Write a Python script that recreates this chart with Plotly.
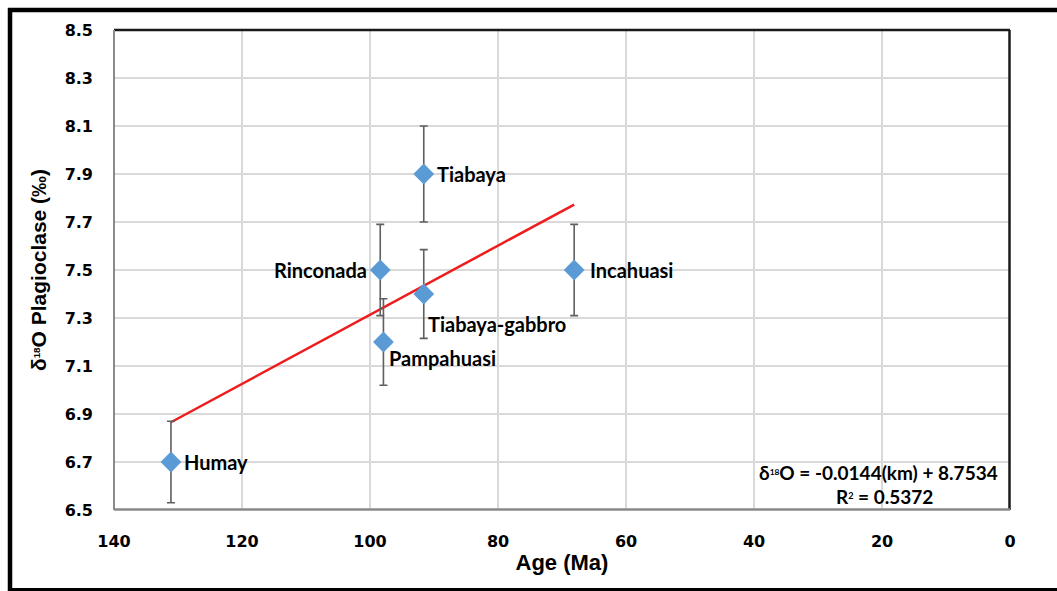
import plotly.graph_objects as go

# Sample data
names = ["Humay", "Rinconada", "Tiabaya", "Tiabaya-gabbro", "Pampahuasi", "Incahuasi"]
age_ma = [131.1, 98.4, 91.6, 91.6, 97.9, 68.1]
d18o = [6.7, 7.5, 7.9, 7.4, 7.2, 7.5]
d18o_err = [0.17, 0.19, 0.2, 0.185, 0.18, 0.19]

# Linear trend reported on the chart
fit_slope = -0.0144
fit_intercept = 8.7534
fit_r2 = 0.5372

x_ticks = [140, 120, 100, 80, 60, 40, 20, 0]
y_ticks = [6.5, 6.7, 6.9, 7.1, 7.3, 7.5, 7.7, 7.9, 8.1, 8.3, 8.5]

# label placement: (xanchor, xshift, yshift)
label_pos = {
    "Humay": ("left", 11, 0),
    "Rinconada": ("right", -11, 0),
    "Tiabaya": ("left", 11, 0),
    "Tiabaya-gabbro": ("left", 2, -30),
    "Pampahuasi": ("left", 4, -16),
    "Incahuasi": ("left", 14, 0),
}

W, H = 1057, 591
ML, MT = 114, 30
MR, MB = W - 1010, H - 510
PW, PH = W - ML - MR, H - MT - MB

fig = go.Figure()

x_fit = [max(age_ma), min(age_ma)]
y_fit = [fit_slope * a + fit_intercept for a in x_fit]
fig.add_trace(go.Scatter(x=x_fit, y=y_fit, mode="lines",
                         line=dict(color="#EE1C1C", width=2.5), hoverinfo="skip"))

fig.add_trace(go.Scatter(
    x=age_ma, y=d18o, mode="markers", text=names,
    marker=dict(symbol="diamond", size=16, color="#5B9BD5"),
    error_y=dict(type="data", array=d18o_err, visible=True,
                 color="#5f5f5f", thickness=1.6, width=4),
))

lab_font = dict(family="Lato, Open Sans, sans-serif", size=20, color="black")
for n, a, v in zip(names, age_ma, d18o):
    anc, xs, ys = label_pos[n]
    fig.add_annotation(x=a, y=v, text=f"<b>{n}</b>", showarrow=False,
                       xanchor=anc, yanchor="middle", xshift=xs, yshift=ys, font=lab_font)

eq_font = dict(family="Lato, Open Sans, sans-serif", size=19, color="black")
fig.add_annotation(x=0.853, y=0.078, xref="paper", yref="paper", showarrow=False,
                   text=f"<b>δ<span style='font-size:12px'><sup>18</sup></span>O = {fit_slope}(km) + {fit_intercept}</b>",
                   font=eq_font, xanchor="center", yanchor="middle")
fig.add_annotation(x=0.86, y=0.028, xref="paper", yref="paper", showarrow=False,
                   text=f"<b>R<span style='font-size:13px'><sup>2</sup></span> = {fit_r2}</b>",
                   font=eq_font, xanchor="center", yanchor="middle")


def px_x(p):
    return (p - ML) / PW


def px_y(p):
    return 1 - (p - MT) / PH


# plot-area frame (darker top/right, grey left/bottom), pixel coords
frame = [
    (114, 30, 1010, 30, "#1a1a1a", 2.5),
    (1009.5, 30, 1009.5, 510, "#1a1a1a", 2.5),
    (114, 30, 114, 510, "#8a8a8a", 2),
    (114, 509.5, 1010, 509.5, "#8a8a8a", 2.5),
    # outer black frame of the figure
    (8, 10, 1057, 10, "black", 4.5),
    (10, 8, 10, 591, "black", 4.5),
    (8, 589.5, 1057, 589.5, "black", 3),
]
for x0, y0, x1, y1, c, w in frame:
    fig.add_shape(type="line", xref="paper", yref="paper",
                  x0=px_x(x0), y0=px_y(y0), x1=px_x(x1), y1=px_y(y1),
                  line=dict(color=c, width=w), layer="above")

tick_font = dict(family="DejaVu Sans, Verdana, sans-serif", size=16, color="black")
fig.update_xaxes(range=[140, 0], tickvals=x_ticks, ticktext=[f"<b>{t}</b>" for t in x_ticks],
                 showgrid=True, gridcolor="#d9d9d9", gridwidth=1.5, zeroline=False,
                 showline=False, ticks="", tickfont=tick_font, ticklabelstandoff=20,
                 title=dict(text="<b>Age (Ma)</b>", standoff=4,
                            font=dict(family="Liberation Sans, Arial, sans-serif", size=22, color="black")))
fig.update_yaxes(range=[6.5, 8.5], tickvals=y_ticks, ticktext=[f"<b>{t:.1f}</b>" for t in y_ticks],
                 showgrid=True, gridcolor="#d9d9d9", gridwidth=1.5, zeroline=False,
                 showline=False, ticks="", tickfont=tick_font, ticklabelstandoff=20,
                 title=dict(text="<b>δ<span style='font-size:14px'><sup>18</sup></span>O Plagioclase (‰)</b>", standoff=12,
                            font=dict(family="Liberation Sans, Arial, sans-serif", size=21, color="black")))

fig.update_layout(width=W, height=H, margin=dict(l=ML, r=MR, t=MT, b=MB),
                  plot_bgcolor="white", paper_bgcolor="white", showlegend=False)

fig.write_html("out.html", config={"displayModeBar": False},
               post_script="document.body.style.margin='0';document.body.style.overflow='hidden';")
